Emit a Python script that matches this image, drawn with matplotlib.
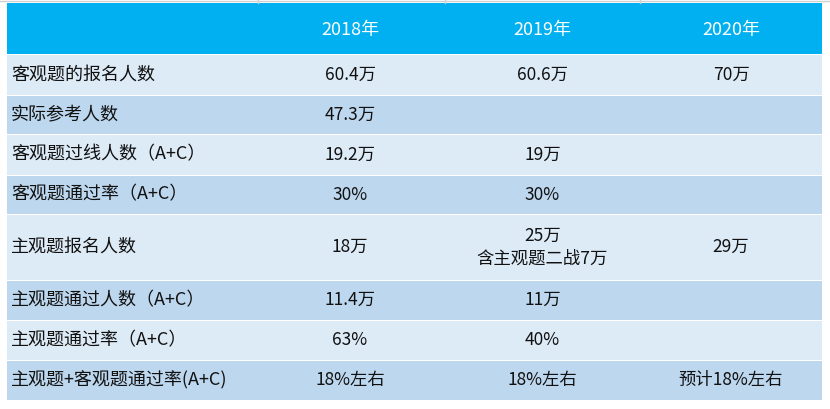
import matplotlib.pyplot as plt
from matplotlib.patches import Rectangle

plt.rcParams['font.family'] = ['Noto Sans CJK SC', 'DejaVu Sans']

# 表格数据
years = ['2018年', '2019年', '2020年']
row_labels = ['客观题的报名人数', '实际参考人数', '客观题过线人数（A+C）', '客观题通过率（A+C）',
              '主观题报名人数', '主观题通过人数（A+C）', '主观题通过率（A+C）', '主观题+客观题通过率(A+C)']
col_2018 = ['60.4万', '47.3万', '19.2万', '30%', '18万', '11.4万', '63%', '18%左右']
col_2019 = ['60.6万', '', '19万', '30%', '25万\n含主观题二战7万', '11万', '40%', '18%左右']
col_2020 = ['70万', '', '', '', '29万', '', '', '预计18%左右']

# 布局（像素）
W, H = 830, 409
x_edges = [7, 255, 445, 640, 822]
header_top, header_bottom = 3, 54
row_edges = [54, 95, 134, 175, 214, 280, 320, 360, 400]
light, dark, header_color = '#DDEBF7', '#BDD7EE', '#00B0F0'

fig = plt.figure(figsize=(W / 100, H / 100), dpi=100)
ax = fig.add_axes([0, 0, 1, 1])
ax.set_xlim(0, W)
ax.set_ylim(H, 0)
ax.axis('off')

# 顶部网格线
ax.plot([0, W], [1, 1], color='#d0d0d0', lw=1)
for x in [258, 445, 640]:
    ax.plot([x, x], [0, 3], color='#d0d0d0', lw=1)

# 表头
ax.add_patch(Rectangle((x_edges[0], header_top), x_edges[-1] - x_edges[0],
                       header_bottom - header_top, color=header_color, lw=0))
for i, year in enumerate(years):
    cx = (x_edges[i + 1] + x_edges[i + 2]) / 2
    ax.text(cx, (header_top + header_bottom) / 2 + 1, year, color='white',
            fontsize=13, ha='center', va='center', fontweight='medium')

# 数据行
columns = [col_2018, col_2019, col_2020]
for r, label in enumerate(row_labels):
    y0, y1 = row_edges[r], row_edges[r + 1]
    fill = light if r % 2 == 0 else dark
    ax.add_patch(Rectangle((x_edges[0], y0 + 0.5), x_edges[-1] - x_edges[0],
                           y1 - y0 - 1, color=fill, lw=0))
    cy = (y0 + y1) / 2
    ax.text(x_edges[0] + 4, cy, label, fontsize=13, ha='left', va='center', color='#111111')
    for c, col in enumerate(columns):
        if col[r]:
            cx = (x_edges[c + 1] + x_edges[c + 2]) / 2
            ax.text(cx, cy, col[r], fontsize=12.5, ha='center', va='center',
                    color='#111111', linespacing=1.35, multialignment='center')

fig.savefig('out.png', dpi=100, facecolor='white')
